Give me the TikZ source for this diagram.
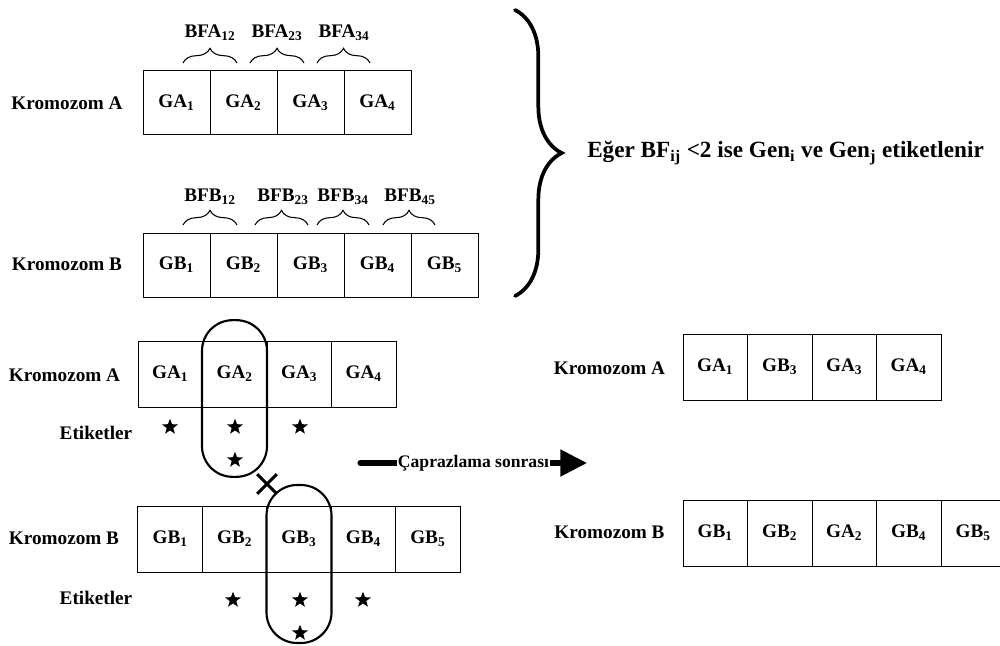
\documentclass[tikz,border=0pt]{standalone}
\usepackage{fontspec}
\setmainfont{Liberation Serif}
\usetikzlibrary{decorations.pathreplacing,shapes.geometric,shapes.misc,arrows.meta}

\tikzset{
  txt/.style = {font=\fontsize{14.4}{16}\selectfont\bfseries, inner sep=0pt},
  gene/.style = {draw, txt, outer sep=0pt, line width=0.7pt},
  genebig/.style = {gene, minimum width=50.25pt, minimum height=48.5pt},
  genesmall/.style = {gene, minimum width=48.4pt, minimum height=49.5pt},
  pairbrace/.style = {decorate, decoration={brace, amplitude=11pt}, line width=0.8pt},
  tag/.style = {star, star points=5, star point ratio=2.4, fill, draw=none,
    minimum size=12.5pt, inner sep=0pt},
  swapbox/.style = {draw, line width=1.6pt, rounded corners=23pt, minimum width=48.75pt,
    inner sep=0pt}
}

\begin{document}
\begin{tikzpicture}[x=0.75pt, y=-0.75pt]
  \useasboundingbox (0,0) rectangle (1000,646);

  % ust kisim: bitisiklik fonksiyonlari
  \node[txt] (krA) at (67,103) {Kromozom A};
  \foreach \i in {1,...,4}
    \node[genebig] (ta\i) at ({143+67*(\i-0.5)},102.5) {GA\textsubscript{\i}};
  \node[txt] (bfa12) at (210,33) {BFA\textsubscript{12}};
  \node[txt] (bfa23) at (277,33) {BFA\textsubscript{23}};
  \node[txt] (bfa34) at (344,33) {BFA\textsubscript{34}};
  \draw[pairbrace] (183,63) -- (237,63);
  \draw[pairbrace] (250,63) -- (304,63);
  \draw[pairbrace] (317,63) -- (370,63);

  \node[txt] (krB) at (67,264) {Kromozom B};
  \foreach \i in {1,...,5}
    \node[genebig, minimum height=48pt] (tb\i) at ({143+67*(\i-0.5)},265) {GB\textsubscript{\i}};
  \node[txt] (bfb12) at (210,197) {BFB\textsubscript{12}};
  \node[txt] (bfb23) at (283,197) {BFB\textsubscript{23}};
  \node[txt] (bfb34) at (343,197) {BFB\textsubscript{34}};
  \node[txt] (bfb45) at (410,197) {BFB\textsubscript{45}};
  \draw[pairbrace] (183,225) -- (237,225);
  \draw[pairbrace] (255,225) -- (308,225);
  \draw[pairbrace] (317,225) -- (369,225);
  \draw[pairbrace] (383,225) -- (435,225);

  \draw[decorate, decoration={brace, amplitude=35pt}, line width=2.8pt, line cap=round] (515,10) -- (515,296);
  \node[txt, font=\fontsize{17.4}{20}\selectfont\bfseries, anchor=west] (rule) at (587,153)
    {Eğer BF\textsubscript{ij} <2 ise Gen\textsubscript{i} ve Gen\textsubscript{j} etiketlenir};

  % alt kisim: caprazlama
  \node[txt] (krA2) at (64.5,375) {Kromozom A};
  \foreach \i in {1,...,4}
    \node[genesmall] (ca\i) at ({138+64.5*(\i-0.5)},374) {GA\textsubscript{\i}};
  \node[txt] (etA) at (96,433) {Etiketler};
  \node[tag] (sa1) at (170,427) {};
  \node[tag] (sa2) at (235,427) {};
  \node[tag] (sa3) at (300,427) {};
  \node[tag] (sa4) at (235,460) {};
  \node[swapbox, minimum height=117.5pt] (ov1) at (234.5,398.5) {};

  \node[txt] (krB2) at (64,538) {Kromozom B};
  \foreach \i in {1,...,5}
    \node[genesmall] (cb\i) at ({138+64.4*(\i-0.5)},539) {GB\textsubscript{\i}};
  \node[txt] (etB) at (96,598) {Etiketler};
  \node[tag] (sb1) at (233,600) {};
  \node[tag] (sb2) at (300,600) {};
  \node[tag] (sb3) at (363,600) {};
  \node[tag] (sb4) at (300,633) {};
  \node[swapbox, minimum height=118.5pt] (ov2) at (299,564) {};

  \node[draw, cross out, minimum size=12.5pt, inner sep=0pt, line width=2.2pt] (cut) at (267,484) {};

  \coordinate (as) at (360,463);
  \coordinate (ae) at (587,463);
  \draw[line width=3.8pt, line cap=round, -{Triangle[length=20pt, width=19.5pt]}] (as) -- (ae)
    node[midway, txt, font=\fontsize{13.2}{15}\selectfont\bfseries, fill=white, inner xsep=0.5pt] (cross) {Çaprazlama sonrası};

  % sonuc kromozomlari
  \node[txt] (krA3) at (609.5,368) {Kromozom A};
  \foreach \n/\k [count=\i] in {A/1,B/3,A/3,A/4}
    \node[genesmall] (ra\i) at ({683+64.5*(\i-0.5)},367) {G\n\textsubscript{\k}};
  \node[txt] (krB3) at (609.5,532) {Kromozom B};
  \foreach \n/\k [count=\i] in {B/1,B/2,A/2,B/4,B/5}
    \node[genesmall] (rb\i) at ({683+64.5*(\i-0.5)},533) {G\n\textsubscript{\k}};
\end{tikzpicture}
\end{document}
